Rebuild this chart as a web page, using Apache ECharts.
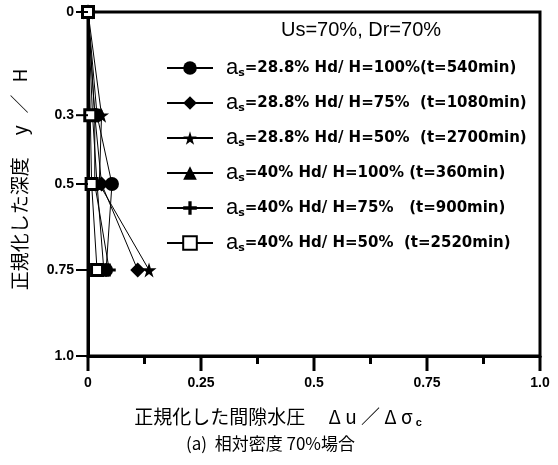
<!DOCTYPE html>
<html><head><meta charset="utf-8">
<script src="https://cdn.jsdelivr.net/npm/echarts@6/dist/echarts.min.js"></script>
<style>html,body{margin:0;padding:0;background:#fff}#c{width:558px;height:465px}</style>
</head><body><div id="c"></div>
<script>
// depth levels (y/H) and normalized pore pressure per series
const depths = [0, 0.3, 0.5, 0.75];
const sCircle   = [0, 0.02, 0.053, 0.040];
const sDiamond  = [0, 0.015, 0.030, 0.110];
const sStar     = [0, 0.030, 0.025, 0.135];
const sTriangle = [0, 0.010, 0.020, 0.035];
const sPlus     = [0, 0.015, 0.015, 0.047];
const sSquare   = [0, 0.005, 0.008, 0.020];
const legendAs = ['28.8%', '28.8%', '28.8%', '40%', '40%', '40%'];
const legendHd = ['100%', '75%', '50%', '100%', '75%', '50%'];
const legendT  = ['(t=540min)', '  (t=1080min)', '  (t=2700min)', ' (t=360min)', '   (t=900min)', '  (t=2520min)'];
const yTicks = [0, 0.3, 0.5, 0.75, 1.0];
const yTickLabels = ['0', '0.3', '0.5', '0.75', '1.0'];
const xMajorTicks = [0, 0.25, 0.5, 0.75, 1.0];
const xMinorTicks = [0.125, 0.375, 0.625, 0.875];
const xLabels = {0: '0', 0.25: '0.25', 0.5: '0.5', 0.75: '0.75', 1: '1.0'};

const STAR = 'path://M50,0 L61,35 L98,35 L68,57 L79,91 L50,70 L21,91 L32,57 L2,35 L39,35 Z';
const PLUS = 'path://M38,0 H62 V38 H100 V62 H62 V100 H38 V62 H0 V38 H38 Z';

const seriesDefs = [
  {vals: sCircle, symbol: 'circle', size: 14},
  {vals: sDiamond, symbol: 'diamond', size: 15},
  {vals: sStar, symbol: STAR, size: 15},
  {vals: sTriangle, symbol: 'triangle', size: 12},
  {vals: sPlus, symbol: PLUS, size: 13},
  {vals: sSquare, symbol: 'rect', size: 11, hollow: true}
];
const names = seriesDefs.map((d, i) => 'S' + i);

const series = seriesDefs.map((d, i) => ({
  name: names[i],
  type: 'line',
  data: d.vals.map((v, k) => [v, depths[k]]),
  symbol: d.symbol,
  symbolSize: d.size,
  showAllSymbol: true,
  lineStyle: {color: '#000', width: 1},
  itemStyle: d.hollow ? {color: '#fff', borderColor: '#000', borderWidth: 3} : {color: '#000', borderWidth: 0},
  z: 3
}));

const textGraphics = [
  {id: 'title', type: 'text', left: 281, top: 20, style: {text: 'Us=70%, Dr=70%', font: '20px "Liberation Sans"', fill: '#000'}},
  {id: 'caption', type: 'text', left: 186, top: 435, style: {text: '(a)  相対密度 70%場合', font: '17px "Noto Sans CJK JP"', fill: '#000'}}
];

const blackLine = {color: '#000', width: 3};
const chart = echarts.init(document.getElementById('c'), null, {renderer: 'canvas'});
chart.setOption({
  animation: false,
  grid: {left: 88, top: 12, right: 18, bottom: 109, show: true, borderColor: '#000', borderWidth: 3},
  xAxis: {
    type: 'value', min: 0, max: 1, interval: 0.25,
    axisLine: {show: true, onZero: false, lineStyle: blackLine},
    axisTick: {show: false},
    splitLine: {show: false},
    axisLabel: {show: true, margin: 20, color: '#000', fontFamily: 'Liberation Sans', fontWeight: 'bold', fontSize: 14,
      formatter: v => xLabels[v] !== undefined ? xLabels[v] : ''},
    name: '{t|正規化した間隙水圧　 Δ u ／ Δ σ}{c| c}',
    nameLocation: 'middle', nameGap: 49,
    nameTextStyle: {padding: [0, 72, 0, 0], rich: {
      t: {fontFamily: 'Noto Sans CJK JP', fontSize: 19, color: '#000'},
      c: {fontFamily: 'Liberation Sans', fontSize: 11, color: '#000', fontWeight: 'bold', verticalAlign: 'bottom', padding: [12, 0, 0, 0]}
    }}
  },
  yAxis: {
    type: 'value', min: 0, max: 1, inverse: true,
    axisLine: {show: true, onZero: false, lineStyle: blackLine},
    axisTick: {show: false},
    splitLine: {show: false},
    axisLabel: {customValues: yTicks, margin: 14, color: '#000', fontFamily: 'Liberation Sans', fontWeight: 'bold', fontSize: 14,
      formatter: v => yTickLabels[yTicks.indexOf(v)]},
    name: '{a|正規化した深度}{b|y}{c|／}{d|H}',
    nameLocation: 'middle', nameGap: 59, nameRotate: 90,
    nameTextStyle: {rich: {
      a: {fontFamily: 'Noto Sans CJK JP', fontSize: 19, color: '#000', padding: [0, 0, 0, 9]},
      b: {fontFamily: 'Noto Sans CJK JP', fontSize: 19, color: '#000', padding: [0, 0, 0, 22]},
      c: {fontFamily: 'Noto Sans CJK JP', fontSize: 19, color: '#000', padding: [0, 0, 0, 12]},
      d: {fontFamily: 'Noto Sans CJK JP', fontSize: 19, color: '#000', padding: [0, 0, 0, 12]}
    }}
  },
  legend: {
    orient: 'vertical', left: 161, top: 52, itemGap: 13, itemWidth: 46, itemHeight: 17,
    data: names.map(n => ({name: n})),
    lineStyle: {width: 2, color: '#000'},
    selectedMode: false,
    formatter: function (n) {
      const i = names.indexOf(n);
      return '{a|a}{s|s}{b|=' + legendAs[i] + ' Hd/ H=' + legendHd[i] + legendT[i] + '}';
    },
    textStyle: {
      color: '#000',
      rich: {
        a: {fontFamily: 'Liberation Sans', fontSize: 22, color: '#000', padding: [0, 0, 0, 8]},
        s: {fontFamily: 'DejaVu Sans', fontSize: 11, fontWeight: 'bold', color: '#000', verticalAlign: 'bottom', padding: [6, 0, 0, 0]},
        b: {fontFamily: 'DejaVu Sans', fontSize: 15, fontWeight: 'bold', color: '#000'}
      }
    }
  },
  graphic: textGraphics,
  series: series
});

// tick marks: positions come from the chart's own axis scales via convertToPixel
const finder = {xAxisIndex: 0, yAxisIndex: 0};
const tickGraphics = [];
xMajorTicks.forEach((v, i) => {
  const p = chart.convertToPixel(finder, [v, 1]);
  tickGraphics.push({id: 'xM' + i, type: 'rect', z: 100, shape: {x: p[0] - 1.5, y: p[1], width: 3, height: 15}, style: {fill: '#000'}});
});
xMinorTicks.forEach((v, i) => {
  const p = chart.convertToPixel(finder, [v, 1]);
  tickGraphics.push({id: 'xm' + i, type: 'rect', z: 100, shape: {x: p[0] - 1.5, y: p[1], width: 3, height: 8}, style: {fill: '#000'}});
});
yTicks.forEach((v, i) => {
  const p = chart.convertToPixel(finder, [0, v]);
  tickGraphics.push({id: 'yt' + i, type: 'rect', z: 100, shape: {x: p[0] - 12, y: p[1] - 1, width: 12, height: 2}, style: {fill: '#000'}});
});
chart.setOption({graphic: textGraphics.concat(tickGraphics)});
</script></body></html>
